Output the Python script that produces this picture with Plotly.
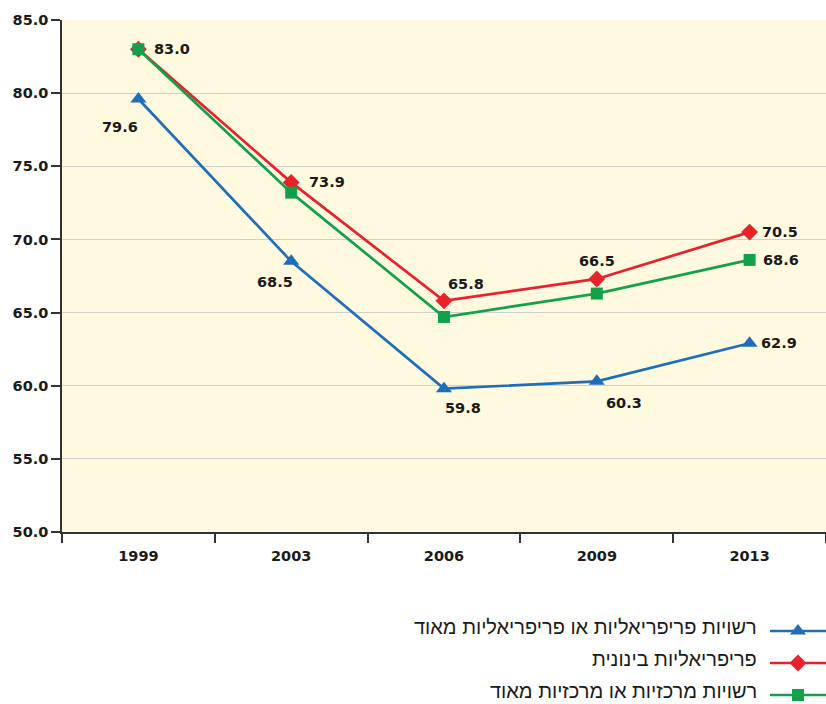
import plotly.graph_objects as go

years = ["1999", "2003", "2006", "2009", "2013"]
series_names = [
    "רשויות פריפריאליות או פריפריאליות מאוד",
    "פריפריאליות בינונית",
    "רשויות מרכזיות או מרכזיות מאוד",
]
blue_vals = [79.6, 68.5, 59.8, 60.3, 62.9]
red_vals = [83.0, 73.9, 65.8, 67.3, 70.5]
green_vals = [83.0, 73.2, 64.7, 66.3, 68.6]
blue_labels = ["79.6", "68.5", "59.8", "60.3", "62.9"]
red_labels = ["83.0", "73.9", "65.8", "66.5", "70.5"]
green_labels = [None, None, None, None, "68.6"]
y_ticks = [50, 55, 60, 65, 70, 75, 80, 85]

colors = ["#1F6EB8", "#E8212B", "#13A04B"]
symbols = ["triangle-up", "diamond", "square"]
sizes = [14, 13, 12]
# label offsets in px (style)
blue_off = [(-18, -28), (-16, -21), (19, -19), (27, -22), (29, 0)]
red_off = [(34, 0), (36, 0), (22, 17), (0, 18), (30, 0)]
green_off = [(0, 0), (0, 0), (0, 0), (0, 0), (31, 0)]

FS = 14.5

fig = go.Figure()
all_vals = [blue_vals, red_vals, green_vals]
all_labels = [blue_labels, red_labels, green_labels]
all_offs = [blue_off, red_off, green_off]

for i in range(3):
    fig.add_trace(go.Scatter(
        x=years, y=all_vals[i], mode="lines+markers",
        line=dict(color=colors[i], width=2.7),
        marker=dict(symbol=symbols[i], size=sizes[i], color=colors[i]),
        showlegend=False, cliponaxis=False, xaxis="x", yaxis="y",
    ))

annotations = []
for i in range(3):
    for j, lab in enumerate(all_labels[i]):
        if lab is None:
            continue
        dx, dy = all_offs[i][j]
        annotations.append(dict(
            x=j, y=all_vals[i][j], xref="x", yref="y", text=lab,
            showarrow=False, xshift=dx, yshift=dy,
            font=dict(family="DejaVu Sans", size=FS, color="#1a1a1a", weight="bold"),
        ))

# custom legend (symbol on the right, RTL text)
for i in range(3):
    fig.add_trace(go.Scatter(
        x=[0, 0.5, 1], y=[i, i, i], mode="lines",
        line=dict(color=colors[i], width=2.7),
        showlegend=False, xaxis="x2", yaxis="y2", hoverinfo="skip", cliponaxis=False,
    ))
    fig.add_trace(go.Scatter(
        x=[0.5], y=[i], mode="markers",
        marker=dict(symbol=symbols[i], size=sizes[i], color=colors[i]),
        showlegend=False, xaxis="x2", yaxis="y2", hoverinfo="skip", cliponaxis=False,
    ))
    annotations.append(dict(
        x=0.911, y=i, xref="paper", yref="y2", text=series_names[i],
        showarrow=False, xanchor="right", yanchor="middle", yshift=4, borderpad=0,
        font=dict(family="Liberation Sans, Arial, sans-serif", size=20, color="#1a1a1a"),
    ))

fig.update_layout(
    width=826, height=704,
    margin=dict(l=62, r=0, t=20, b=0, autoexpand=False),
    paper_bgcolor="white", plot_bgcolor="white",
    font=dict(family="DejaVu Sans", size=FS, color="#1a1a1a"),
    annotations=annotations,
    shapes=[dict(type="rect", xref="x domain", yref="y domain", x0=0, x1=1, y0=0, y1=1,
                 fillcolor="#FEF9DF", line=dict(width=0), layer="below")],
    xaxis=dict(
        type="category", range=[-0.5, 4.5], anchor="y", domain=[0, 1],
        showline=True, linecolor="#333333", linewidth=1.5,
        ticks="outside", tickson="boundaries", ticklen=9, tickcolor="#333333", tickwidth=1.5,
        showgrid=False, zeroline=False,
        tickfont=dict(family="DejaVu Sans", size=FS, color="#1a1a1a", weight="bold"),
        ticklabelstandoff=10,
    ),
    yaxis=dict(
        range=[50, 85], domain=[0.25146, 1], anchor="x",
        tickvals=y_ticks, ticktext=[f"{v:.1f}" for v in y_ticks],
        showline=True, linecolor="#333333", linewidth=1.5,
        ticks="outside", ticklen=9, tickcolor="#333333", tickwidth=1.5,
        showgrid=True, gridcolor="#cfcfcf", gridwidth=1.2, zeroline=False,
        tickfont=dict(family="DejaVu Sans", size=FS, color="#1a1a1a", weight="bold"),
    ),
    xaxis2=dict(domain=[0.9267, 1], range=[0, 1], anchor="y2", visible=False),
    yaxis2=dict(domain=[0, 0.25146], range=[2.28125, -3.09375], anchor="x2", visible=False),
)

fig.write_html(
    "out.html",
    config={"displayModeBar": False},
    post_script="document.body.style.margin='0';document.body.style.overflow='hidden';",
)
